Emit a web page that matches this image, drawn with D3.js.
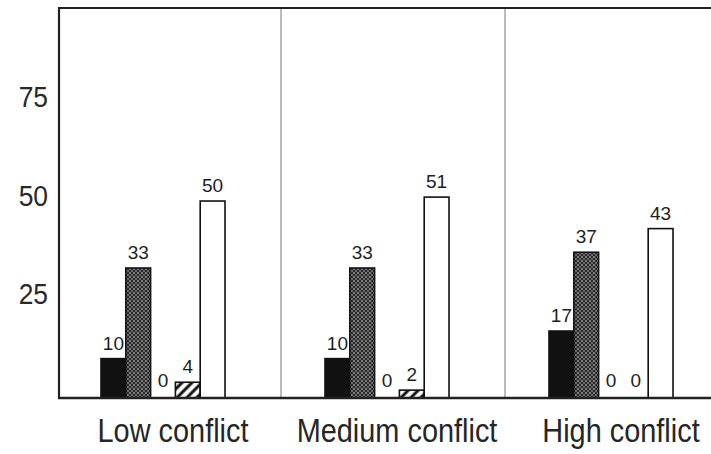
<!DOCTYPE html>
<html>
<head>
<meta charset="utf-8">
<script src="https://cdn.jsdelivr.net/npm/d3@7"></script>
<style>
  html, body { margin: 0; padding: 0; background: #fff; }
  svg { display: block; }
  text { font-family: "Liberation Sans", Arial, sans-serif; fill: #1e1e1e; }
</style>
</head>
<body>
<svg id="chart" width="711" height="454"></svg>
<script>
const categories = ["Low conflict", "Medium conflict", "High conflict"];
const seriesNames = ["Series 1", "Series 2", "Series 3", "Series 4", "Series 5"];
const series1 = [10, 10, 17];
const series2 = [33, 33, 37];
const series3 = [0, 0, 0];
const series4 = [4, 2, 0];
const series5 = [50, 51, 43];
const yTicks = [25, 50, 75];

const seriesValues = [series1, series2, series3, series4, series5];
const data = categories.map((c, i) => ({
  category: c,
  values: seriesNames.map((s, j) => ({ series: s, idx: j, value: seriesValues[j][i] }))
}));

const svg = d3.select("#chart");
const W = 711, H = 454;
const mLeft = 59, mTop = 8, mBottom = 398;

const defs = svg.append("defs");
const p1 = defs.append("pattern").attr("id", "stipple").attr("patternUnits", "userSpaceOnUse")
  .attr("width", 4).attr("height", 4);
p1.append("rect").attr("width", 4).attr("height", 4).attr("fill", "#2a2a2a");
p1.append("circle").attr("cx", 1).attr("cy", 1).attr("r", 0.8).attr("fill", "#e8e8e8");
p1.append("circle").attr("cx", 3).attr("cy", 3).attr("r", 0.8).attr("fill", "#bbbbbb");
const p2 = defs.append("pattern").attr("id", "hatch").attr("patternUnits", "userSpaceOnUse")
  .attr("width", 7).attr("height", 7).attr("patternTransform", "rotate(45)");
p2.append("rect").attr("width", 7).attr("height", 7).attr("fill", "#fff");
p2.append("line").attr("x1", 2).attr("y1", 0).attr("x2", 2).attr("y2", 7)
  .attr("stroke", "#111").attr("stroke-width", 3);

const fills = ["#111", "url(#stipple)", "#888", "url(#hatch)", "#fff"];

const x0 = d3.scaleBand().domain(categories).range([57, 729]);
const x1 = d3.scaleBand().domain(seriesNames).range([44, 168]);
const y = d3.scaleLinear().domain([0, 99]).range([mBottom, mTop]);

svg.append("g").selectAll("line").data(categories.slice(1)).join("line")
  .attr("x1", d => x0(d)).attr("x2", d => x0(d))
  .attr("y1", mTop).attr("y2", mBottom)
  .attr("stroke", "#777").attr("stroke-width", 1);

svg.append("line").attr("x1", mLeft).attr("x2", W).attr("y1", mTop).attr("y2", mTop)
  .attr("stroke", "#222").attr("stroke-width", 2.2);
svg.append("line").attr("x1", mLeft).attr("x2", mLeft).attr("y1", mTop - 1).attr("y2", mBottom + 1)
  .attr("stroke", "#222").attr("stroke-width", 2.2);

const yAxis = d3.axisLeft(y).tickValues(yTicks).tickSize(0).tickPadding(12.5);
const gy = svg.append("g").attr("transform", `translate(${mLeft},0)`).call(yAxis);
gy.select(".domain").remove();
gy.selectAll("text").style("font-size", "30px").attr("dy", "0.14em")
  .attr("transform", "scale(0.88,1)").style("fill", "#2a2a2a");

const groups = svg.append("g").selectAll("g").data(data).join("g")
  .attr("transform", d => `translate(${x0(d.category)},0)`);

groups.selectAll("rect").data(d => d.values.filter(v => v.value > 0)).join("rect")
  .attr("x", v => x1(v.series))
  .attr("width", x1.bandwidth())
  .attr("y", v => y(v.value))
  .attr("height", v => y(0) - y(v.value))
  .attr("fill", v => fills[v.idx])
  .attr("stroke", "#111").attr("stroke-width", 1.6);

groups.selectAll("text.val").data(d => d.values).join("text")
  .attr("class", "val")
  .attr("x", v => x1(v.series) + x1.bandwidth() / 2)
  .attr("y", v => y(v.value) - (v.value > 0 ? 9 : 11))
  .attr("text-anchor", "middle")
  .style("font-size", "19px")
  .text(v => v.value);

svg.append("line").attr("x1", mLeft - 1).attr("x2", W).attr("y1", mBottom).attr("y2", mBottom)
  .attr("stroke", "#222").attr("stroke-width", 2.6);

const xAxis = d3.axisBottom(x0).tickSize(0).tickPadding(20);
const gx = svg.append("g").attr("transform", `translate(4,${mBottom})`).call(xAxis);
gx.select(".domain").remove();
gx.selectAll("text").style("font-size", "34px").attr("transform", "scale(0.85,1)")
  .style("fill", "#262626");
</script>
</body>
</html>
